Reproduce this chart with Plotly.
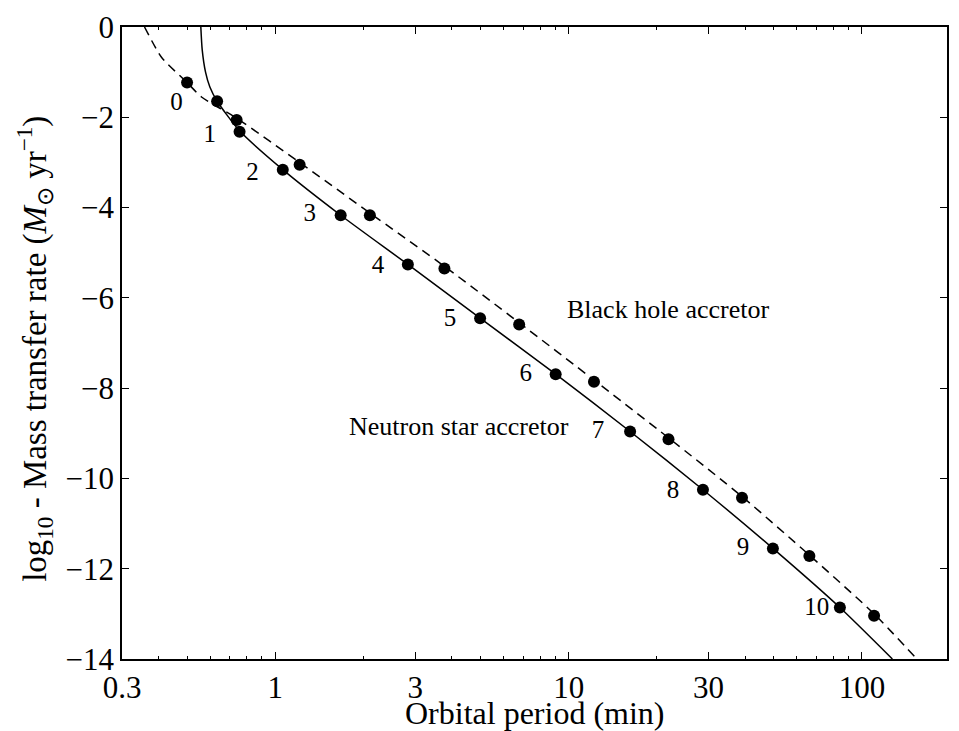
import plotly.graph_objects as go

# ---- data ----
# Neutron star accretor (solid line) points
ns_period = [0.633, 0.755, 1.06, 1.67, 2.83, 4.99, 9.03, 16.2, 28.7, 49.7, 84.1]
ns_logmdot = [-1.645, -2.32, -3.16, -4.17, -5.26, -6.45, -7.69, -8.96, -10.25, -11.55, -12.86]

# Black hole accretor (dashed line) points
bh_period = [0.50, 0.738, 1.21, 2.10, 3.77, 6.78, 12.2, 21.9, 39.0, 66.2, 110.0]
bh_logmdot = [-1.23, -2.06, -3.05, -4.17, -5.35, -6.59, -7.86, -9.13, -10.43, -11.72, -13.04]

# Solid curve (neutron star)
ns_curve_period = [0.557, 0.563, 0.578, 0.598, 0.633, 0.755, 1.06, 1.67, 2.83, 4.99,
                   9.03, 16.2, 28.7, 49.7, 84.1, 127.0]
ns_curve_logmdot = [0.0, -0.5, -1.0, -1.33, -1.645, -2.30, -3.16, -4.17, -5.26, -6.45,
                    -7.69, -8.96, -10.25, -11.55, -12.86, -14.0]

# Dashed curve (black hole)
bh_curve_period = [0.358, 0.409, 0.50, 0.56, 0.738, 1.21, 2.10, 3.77, 6.78, 12.2,
                   21.9, 39.0, 66.2, 110.0, 154.0]
bh_curve_logmdot = [0.0, -0.67, -1.23, -1.55, -2.02, -3.0, -4.12, -5.30, -6.55, -7.82,
                    -9.10, -10.40, -11.70, -13.0, -14.0]

# Index labels
label_text = ["0", "1", "2", "3", "4", "5", "6", "7", "8", "9", "10"]
label_period = [0.46, 0.597, 0.835, 1.31, 2.24, 3.94, 7.14, 12.6, 22.7, 39.3, 70.1]
label_logmdot = [-1.70, -2.40, -3.24, -4.16, -5.31, -6.48, -7.71, -8.96, -10.29, -11.56, -12.89]

x_tickvals = [0.3, 1, 3, 10, 30, 100]
x_ticktext = ["0.3", "1", "3", "10", "30", "100"]
x_minor = [0.4, 0.5, 0.6, 0.7, 0.8, 0.9, 2, 4, 5, 6, 7, 8, 9,
           20, 40, 50, 60, 70, 80, 90]
y_tickvals = [0, -2, -4, -6, -8, -10, -12, -14]
y_ticktext = ["0", "\u22122", "\u22124", "\u22126", "\u22128", "\u221210", "\u221212", "\u221214"]

FONT = "Liberation Serif"

fig = go.Figure()
fig.add_trace(go.Scatter(x=ns_curve_period, y=ns_curve_logmdot, mode="lines",
                         line=dict(color="black", width=1.5, shape="spline", smoothing=0.6),
                         showlegend=False, hoverinfo="skip"))
fig.add_trace(go.Scatter(x=bh_curve_period, y=bh_curve_logmdot, mode="lines",
                         line=dict(color="black", width=1.5, dash="9px,6px", shape="spline", smoothing=0.6),
                         showlegend=False, hoverinfo="skip"))
fig.add_trace(go.Scatter(x=ns_period, y=ns_logmdot, mode="markers",
                         marker=dict(color="black", size=12), name="Neutron star accretor",
                         showlegend=False))
fig.add_trace(go.Scatter(x=bh_period, y=bh_logmdot, mode="markers",
                         marker=dict(color="black", size=12), name="Black hole accretor",
                         showlegend=False))
fig.add_trace(go.Scatter(x=label_period, y=label_logmdot, mode="text", text=label_text,
                         textfont=dict(family=FONT, size=25, color="black"),
                         showlegend=False, hoverinfo="skip"))

fig.add_annotation(x=1.340, y=-6.26, xref="x", yref="y", text="Black hole accretor",
                   showarrow=False, font=dict(family=FONT, size=26, color="black"))
fig.add_annotation(x=0.626, y=-8.85, xref="x", yref="y", text="Neutron star accretor",
                   showarrow=False, font=dict(family=FONT, size=26, color="black"))

# axis titles
fig.add_annotation(x=0.5, y=-0.054, xref="paper", yref="paper", xanchor="center", yanchor="top",
                   text="Orbital period (min)", showarrow=False,
                   font=dict(family=FONT, size=32, color="black"))
fig.add_annotation(x=-0.106, y=0.49, xref="paper", yref="paper", xanchor="center", yanchor="middle",
                   textangle=-90,
                   text="log<sub>10</sub> - Mass transfer rate (<i>M</i><sub>\u2299</sub> yr<sup>\u22121</sup>)",
                   showarrow=False, font=dict(family=FONT, size=33, color="black"))

tickfont = dict(family=FONT, size=31, color="black")

fig.update_xaxes(type="log", range=[-0.5229, 2.29], tickmode="array",
                 tickvals=x_tickvals, ticktext=x_ticktext, tickfont=tickfont,
                 showline=True, linecolor="black", linewidth=1.5, mirror="allticks",
                 ticks="inside", tickcolor="black", tickwidth=1.2, ticklen=7,
                 showgrid=False, zeroline=False,
                 minor=dict(tickvals=x_minor, ticks="inside", ticklen=3.5, tickcolor="black",
                            tickwidth=1, showgrid=False))
fig.update_yaxes(range=[-14, 0], tickmode="array", tickvals=y_tickvals, ticktext=y_ticktext,
                 tickfont=tickfont,
                 showline=True, linecolor="black", linewidth=1.5, mirror="allticks",
                 ticks="inside", tickcolor="black", tickwidth=1.2, ticklen=7,
                 showgrid=False, zeroline=False)

fig.update_layout(width=959, height=731, margin=dict(l=122, r=10, t=23, b=72),
                  font=dict(family=FONT, size=30, color="black"),
                  paper_bgcolor="white", plot_bgcolor="white", showlegend=False)

fig.write_html("out.html", config={"displayModeBar": False},
               post_script="document.body.style.margin='0';")
